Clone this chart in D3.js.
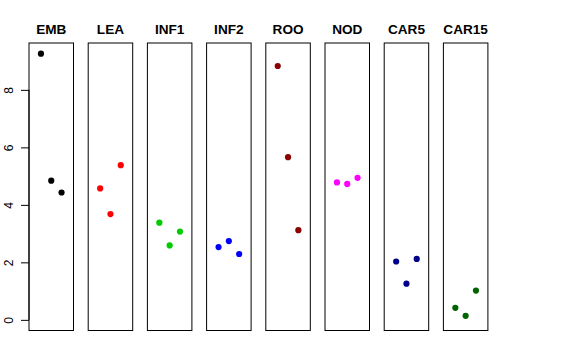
<!DOCTYPE html>
<html><head><meta charset="utf-8">
<script src="https://cdn.jsdelivr.net/npm/d3@7"></script>
<style>body{margin:0;background:#fff}</style>
</head><body>
<svg id="c" width="576" height="360"></svg>
<script>
const categories = ["EMB","LEA","INF1","INF2","ROO","NOD","CAR5","CAR15"];
const colors = ["#000000","#FF0000","#00CD00","#0000FF","#8B0000","#FF00FF","#00008B","#006400"];
const values = [
  [9.26, 4.84, 4.43],
  [4.57, 3.68, 5.38],
  [3.38, 2.59, 3.07],
  [2.53, 2.74, 2.29],
  [8.83, 5.66, 3.12],
  [4.78, 4.73, 4.94],
  [2.03, 1.26, 2.12],
  [0.42, 0.14, 1.02]
];
const yTicks = [0,2,4,6,8];
const replicate = [1,2,3];

(function(){
const svg = d3.select("#c");
const font = "'Liberation Sans', Arial, Helvetica, sans-serif";
const pTop = 43, pBottom = 330.5, firstLeft = 29, step = 59.2, pw = 44.5;

const yMax = d3.max(values.flat());
const ext = 0.04 * yMax;
const y = d3.scaleLinear().domain([0 - ext, yMax + ext]).range([pBottom, pTop]);
const x = d3.scaleLinear().domain([0 - 0.16, 4 + 0.16]);

categories.forEach((cat, i) => {
  const left = firstLeft + i * step;
  x.range([left, left + pw]);
  const g = svg.append("g");
  g.append("rect").attr("x", left).attr("y", pTop).attr("width", pw).attr("height", pBottom - pTop)
    .attr("fill", "none").attr("stroke", "#000").attr("stroke-width", 1);
  g.append("text").attr("x", left + pw / 2).attr("y", 34).attr("text-anchor", "middle")
    .attr("font-family", font).attr("font-weight", "bold").attr("font-size", 13.6).text(cat);
  g.selectAll("circle").data(values[i]).join("circle")
    .attr("cx", (d, j) => x(replicate[j])).attr("cy", d => y(d)).attr("r", 3.1)
    .attr("fill", colors[i]);
});

const ax = svg.append("g").attr("transform", `translate(${firstLeft},0)`)
  .call(d3.axisLeft(y).tickValues(yTicks).tickSize(8).tickPadding(8).tickFormat(d3.format("d")));
ax.select(".domain").attr("d", `M0,${y(0)}V${y(8)}`).attr("stroke", "#000");
ax.selectAll(".tick line").attr("stroke", "#000");
ax.selectAll(".tick text")
  .attr("font-family", font).attr("font-size", 12).attr("fill", "#000")
  .attr("text-anchor", "middle").attr("x", null).attr("dy", null)
  .attr("transform", "translate(-15.7,0) rotate(-90)");
})();
</script>
</body></html>
